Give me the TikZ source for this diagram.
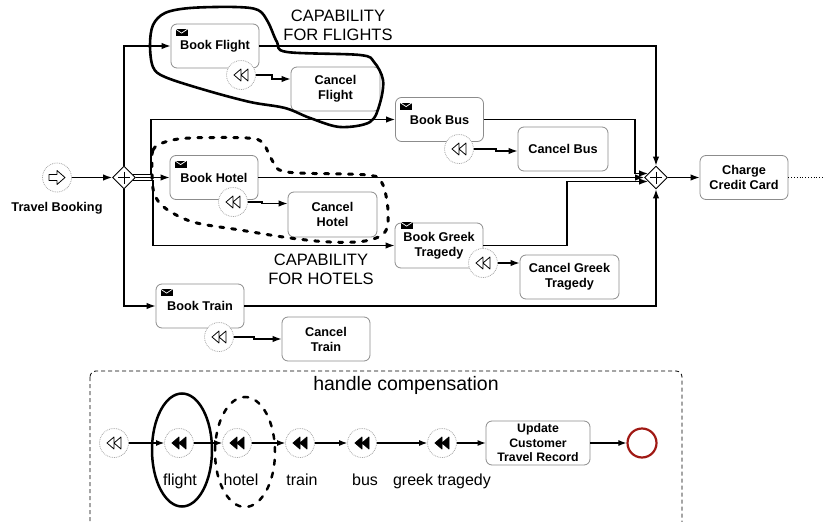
\documentclass[tikz,border=0pt]{standalone}
\usepackage{fontspec}
\setmainfont{Liberation Sans}
\usetikzlibrary{arrows.meta,shapes.geometric,calc}
\definecolor{endred}{RGB}{160,25,20}
\tikzset{
  task/.style={draw=black!45, line width=0.8pt, rounded corners=6pt, fill=white,
    minimum width=88pt, minimum height=44pt, align=center, inner sep=1pt,
    font=\bfseries\fontsize{12.7}{15}\selectfont},
  evt/.style={circle, draw=black!35, densely dotted, line width=0.8pt, fill=white,
    minimum size=29pt, inner sep=0pt},
  gate/.style={diamond, draw, line width=0.9pt, fill=white, minimum width=23pt,
    minimum height=23pt, inner sep=0pt},
  flow/.style={line width=1.3pt, -{Latex[length=9pt,width=6.5pt]}},
  flowb/.style={line width=1.1pt, -{Latex[length=8pt,width=6pt]}},
  caplbl/.style={font=\fontsize{16.5}{19}\selectfont, align=center},
  smlbl/.style={font=\fontsize{16}{19}\selectfont, anchor=base},
  rewindo/.pic={\draw[line width=0.8pt, line join=round, solid] (-7,0) -- (0,-6) -- (0,6) -- cycle (0,0) -- (7,-6) -- (7,6) -- cycle;},
  rewindf/.pic={\filldraw[line width=0.8pt, line join=round, solid] (-7,0) -- (0,-6) -- (0,6) -- cycle (0,0) -- (7,-6) -- (7,6) -- cycle;},
  startarrow/.pic={\draw[line width=0.8pt, line join=round, solid] (-8,-3) -- (0,-3) -- (0,-7) -- (8,0) -- (0,7) -- (0,3) -- (-8,3) -- cycle;},
  plussign/.pic={\draw[line width=0.8pt] (-6,0) -- (6,0) (0,-6) -- (0,6);},
  envelope/.pic={\fill (-6,-3.5) rectangle (6,3.5); \draw[white, line width=0.7pt] (-6,-3.5) -- (0,0.5) -- (6,-3.5);}
}
\begin{document}
\begin{tikzpicture}[x=1pt,y=-1pt]
\useasboundingbox (0,0) rectangle (825,522);
\clip (0,0) rectangle (825,522);

% start and split gateway
\node[evt] (start) at (57,177.5) {};
\pic at (start) {startarrow};
\node[font=\bfseries\fontsize{12.7}{15}\selectfont] (tb) at (57,208) {Travel Booking};
\node[gate] (g1) at (124,177.5) {};
\pic at (g1) {plussign};

% tasks
\node[task] (bf) at (215,46) {Book Flight};
\node[task, minimum width=89pt] (cf) at (335.5,89) {Cancel\\Flight};
\node[task] (bbus) at (439.5,119.5) {Book Bus};
\node[task, minimum width=90pt] (cbus) at (563,149) {Cancel Bus};
\node[task] (bh) at (214,177.5) {Book Hotel};
\node[task, minimum width=89pt, minimum height=45pt] (ch) at (332.5,214.5) {Cancel\\Hotel};
\node[task, minimum height=45pt] (bg) at (439,245.5) {Book Greek\\Tragedy};
\node[task, minimum width=99pt] (cg) at (569.5,277) {Cancel Greek\\Tragedy};
\node[task] (btr) at (200,306) {Book Train};
\node[task] (ctr) at (326,339) {Cancel\\Train};
\node[task] (ccc) at (744,177.5) {Charge\\Credit Card};

% envelopes
\pic at ([shift={(11,9)}]bf.north west) {envelope};
\pic at ([shift={(11,9)}]bbus.north west) {envelope};
\pic at ([shift={(11,9)}]bh.north west) {envelope};
\pic at ([shift={(12,3)}]bg.north west) {envelope};
\pic at ([shift={(11,9)}]btr.north west) {envelope};

% join gateway
\node[gate] (g2) at (656,177.5) {};
\pic at (g2) {plussign};
\coordinate (out) at (826,177.5);

% flows
\draw[flow] (start) -- (g1);
\draw[flow] (g1.north) |- (bf.west);
\draw[flow] ([shift={(-3,-3)}]g1.east) -- ++(18,0) |- (bbus.west);
\draw[flow] (g1.east) -- (bh.west);
\draw[flow] ([shift={(-3,3)}]g1.east) -- ++(20,0) |- (bg.west);
\draw[flow] (g1.south) |- (btr.west);
\draw[flow] (bf.east) -| (g2.north);
\draw[flow] (bbus.east) -| (635,173.5) -- ([shift={(4,-4)}]g2.west);
\draw[flow] (bh.east) -- (g2.west);
\draw[flow] (bg.east) -| (567,181.5) -- ([shift={(4,4)}]g2.west);
\draw[flow] (btr.east) -| (g2.south);
\draw[flow] (g2.east) -- (ccc.west);
\draw[dotted, line width=0.8pt] (ccc.east) -- (out);

% compensation boundary events
\node[evt] (cb1) at (241,75) {};
\pic at (cb1) {rewindo};
\node[evt] (cb2) at (233,202) {};
\pic at (cb2) {rewindo};
\node[evt] (cb3) at (459,149) {};
\pic at (cb3) {rewindo};
\node[evt] (cb4) at (483,263) {};
\pic at (cb4) {rewindo};
\node[evt] (cb5) at (219,337) {};
\pic at (cb5) {rewindo};

\draw[flow] (cb1.east) -- ++(16,0) |- ([yshift=10pt]cf.west);
\draw[flow] (cb2.east) -- ++(14,0) |- ([yshift=11pt]ch.west);
\draw[flow] (cb3.east) -- ++(22,0) |- ([yshift=-2pt]cbus.west);
\draw[flow] (cb4.east) -- ([yshift=14pt]cg.west);
\draw[flow] (cb5.east) -- ++(20,0) |- (ctr.west);

% capability lassos
\draw[line width=2.6pt, line join=round] plot[smooth cycle, tension=0.55] coordinates {
  (153,67) (150,45) (153,25) (165,13) (190,8) (235,7) (258,10) (268,22) (277,42)
  (287,52) (360,55) (374,62) (383,80) (380,103) (370,122) (340,127) (310,118)
  (285,108) (250,102) (205,90) (165,77)};
\draw[line width=3pt, line cap=round, dash pattern=on 4pt off 8pt] plot[smooth cycle, tension=0.55] coordinates {
  (152,170) (153,150) (165,142) (190,138) (247,138) (263,143) (272,160) (287,172)
  (367,175) (382,183) (388,210) (385,232) (365,241) (330,242) (290,238) (240,230)
  (193,222) (165,208) (154,193)};
\node[caplbl] (capf) at (338,25) {CAPABILITY\\FOR FLIGHTS};
\node[caplbl] (caph) at (321,269) {CAPABILITY\\FOR HOTELS};

% handle compensation subprocess
\draw[dash pattern=on 4pt off 3pt, line width=0.8pt, rounded corners=6pt] (90,371) rectangle (682,532);
\node[font=\fontsize{19.5}{22}\selectfont] (hc) at (406,385) {handle compensation};

\node[evt] (ce0) at (114,443) {};
\pic at (ce0) {rewindo};
\node[evt] (cf1) at (179,443) {};
\pic at (cf1) {rewindf};
\node[evt] (ch1) at (237,443) {};
\pic at (ch1) {rewindf};
\node[evt] (ct1) at (300,443) {};
\pic at (ct1) {rewindf};
\node[evt] (cbu1) at (362,443) {};
\pic at (cbu1) {rewindf};
\node[evt] (cg1) at (442,443) {};
\pic at (cg1) {rewindf};
\node[task, minimum width=104pt, font=\bfseries\fontsize{12.3}{14.5}\selectfont] (upd) at (538,443) {Update\\Customer\\Travel Record};
\node[circle, draw=endred, line width=2.2pt, minimum size=29pt, inner sep=0pt] (endc) at (642,443) {};

\draw[flowb] (ce0) -- (cf1);
\draw[flowb] (cf1) -- (ch1);
\draw[flowb] (ch1) -- (ct1);
\draw[flowb] (ct1) -- (cbu1);
\draw[flowb] (cbu1) -- (cg1);
\draw[flowb] (cg1) -- (upd);
\draw[flowb] (upd) -- (endc);

\node[smlbl] (lf) at (180,485) {flight};
\node[smlbl] (lh) at (241,485) {hotel};
\node[smlbl] (lt) at (302,485) {train};
\node[smlbl] (lb) at (365,485) {bus};
\node[smlbl] (lg) at (442,485) {greek tragedy};

\draw[line width=2.5pt] (182,450) ellipse [x radius=30pt, y radius=56.5pt];
\draw[line width=2.5pt, line cap=round, dash pattern=on 5pt off 8pt] (245,452) ellipse [x radius=30pt, y radius=55pt];
\end{tikzpicture}
\end{document}
